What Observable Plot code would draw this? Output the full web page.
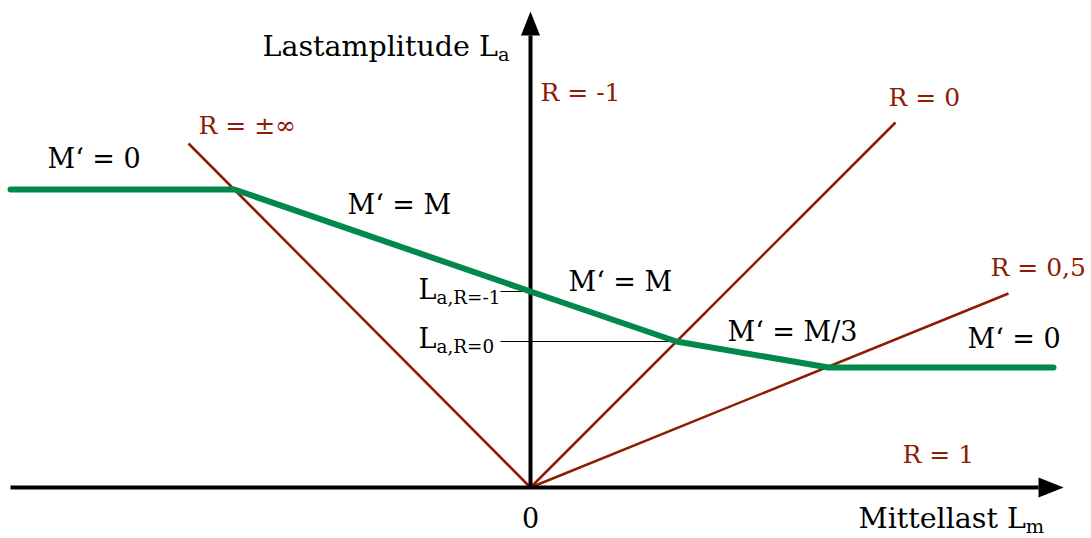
<!DOCTYPE html>
<html><head><meta charset="utf-8">
<script src="https://cdn.jsdelivr.net/npm/d3@7"></script>
<script src="https://cdn.jsdelivr.net/npm/@observablehq/plot@0.6"></script>
<style>html,body{margin:0;padding:0;background:#fff;overflow:hidden}</style>
</head><body><div id="chart"></div>
<script>
// Haigh-type diagram: Mittellast L_m (x) vs. Lastamplitude L_a (y), arbitrary units
// Green limit curve (mean-stress sensitivity M')
const greenX = [-5.2, -2.96, 0, 1.46, 2.98, 5.23];
const greenY = [2.98, 2.98, 1.96, 1.46, 1.20, 1.20];
// R-ratio rays from origin (end points)
const rayNames = ["R = ±∞", "R = 0", "R = 0,5"];
const rayEndX = [-3.42, 3.65, 4.78];
const rayEndY = [3.44, 3.65, 1.94];
// Reference levels on the amplitude axis
const tickNames = ["L_a,R=-1", "L_a,R=0"];
const tickY = [1.96, 1.46];
const tickStartX = [-0.3, -0.3];
const tickEndX = [0, 1.46];
// Axes extents
const axisXMin = -5.2, axisXMax = 5.08;
const axisYMax = 4.52;
// Axis titles (anchor x, baseline y)
const axisTitles = ["Lastamplitude L_a", "Mittellast L_m"];
const axisTitleX = [-2.68, 3.28];
const axisTitleY = [4.32, -0.40];
// Curve and level labels (anchor x, baseline y)
const blackLabels = ["M‘ = 0", "M‘ = M", "M‘ = M", "M‘ = M/3", "M‘ = 0", "L_a,R=-1", "L_a,R=0"];
const blackLabelX = [-4.83, -1.83, 0.38, 1.97, 4.37, -1.12, -1.12];
const blackLabelY = [3.20, 2.74, 1.97, 1.47, 1.40, 1.89, 1.40];
// R-ratio labels
const redLabels = ["R = -1", "R = 0", "R = ±∞", "R = 0,5", "R = 1"];
const redLabelX = [0.10, 3.58, -3.32, 4.60, 3.72];
const redLabelY = [3.87, 3.82, 3.54, 2.12, 0.25];
const originLabel = ["0"];

const RED = "#8c1c02", GREEN = "#00894b";

const green = greenX.map((x, i) => ({x, y: greenY[i]}));
const rays = rayNames.map((n, i) => ({n, x1: 0, y1: 0, x2: rayEndX[i], y2: rayEndY[i]}));
const ticks = tickNames.map((n, i) => ({n, x1: tickStartX[i], x2: tickEndX[i], y: tickY[i]}));
const axes = [
  {x1: axisXMin, y1: 0, x2: axisXMax, y2: 0},
  {x1: 0, y1: 0, x2: 0, y2: axisYMax}
];
const heads = [
  {x: axisXMax, y: 0},
  {x: 0, y: axisYMax}
];
const at = axisTitles.map((t, i) => ({t, x: axisTitleX[i], y: axisTitleY[i]}));
const bl = blackLabels.map((t, i) => ({t, x: blackLabelX[i], y: blackLabelY[i]}));
const rl = redLabels.map((t, i) => ({t, x: redLabelX[i], y: redLabelY[i]}));

const arrowSym = {
  draw(ctx, size) {
    const s = Math.sqrt(size / Math.PI) / 10;
    ctx.moveTo(0, -24 * s);
    ctx.lineTo(9.5 * s, 0);
    ctx.lineTo(-9.5 * s, 0);
    ctx.closePath();
  }
};

const chart = Plot.plot({
  width: 1091, height: 538,
  margin: 0,
  x: {domain: [-5.3, 5.61], axis: null},
  y: {domain: [-0.51, 4.87], axis: null},
  style: {fontFamily: "'DejaVu Serif', serif", background: "white", overflow: "visible"},
  marks: [
    Plot.link(rays, {x1: "x1", y1: "y1", x2: "x2", y2: "y2", stroke: RED, strokeWidth: 2.5}),
    Plot.link(ticks, {x1: "x1", x2: "x2", y1: "y", y2: "y", stroke: "black", strokeWidth: 1}),
    Plot.link(axes, {x1: "x1", y1: "y1", x2: "x2", y2: "y2", stroke: "black", strokeWidth: 4}),
    Plot.dot(heads.slice(0, 1), {x: "x", y: "y", symbol: arrowSym, r: 10.5, rotate: 90, fill: "black", stroke: "none"}),
    Plot.dot(heads.slice(1), {x: "x", y: "y", symbol: arrowSym, r: 10, rotate: 0, fill: "black", stroke: "none"}),
    Plot.line(green, {x: "x", y: "y", stroke: GREEN, strokeWidth: 6, strokeLinecap: "round", strokeLinejoin: "round"}),
    Plot.text(at, {x: "x", y: "y", text: "t", textAnchor: "start", lineAnchor: "bottom", fill: "black", fontSize: 28.5}),
    Plot.text(bl, {x: "x", y: "y", text: "t", textAnchor: "start", lineAnchor: "bottom", fill: "black", fontSize: 27}),
    Plot.text(rl, {x: "x", y: "y", text: "t", textAnchor: "start", lineAnchor: "bottom", fill: RED, fontSize: 25}),
    Plot.text(originLabel, {x: () => 0, y: () => -0.40, text: d => d, textAnchor: "middle", lineAnchor: "bottom", fill: "black", fontSize: 27})
  ]
});

chart.querySelectorAll("text").forEach(t => {
  const s = t.textContent;
  const i = s.indexOf("_");
  if (i < 0) return;
  while (t.firstChild) t.removeChild(t.firstChild);
  t.appendChild(document.createTextNode(s.slice(0, i)));
  const ts = document.createElementNS("http://www.w3.org/2000/svg", "tspan");
  ts.setAttribute("font-size", "0.68em");
  ts.setAttribute("dy", "0.28em");
  ts.textContent = s.slice(i + 1);
  t.appendChild(ts);
});

document.getElementById("chart").appendChild(chart);
</script>
</body></html>
